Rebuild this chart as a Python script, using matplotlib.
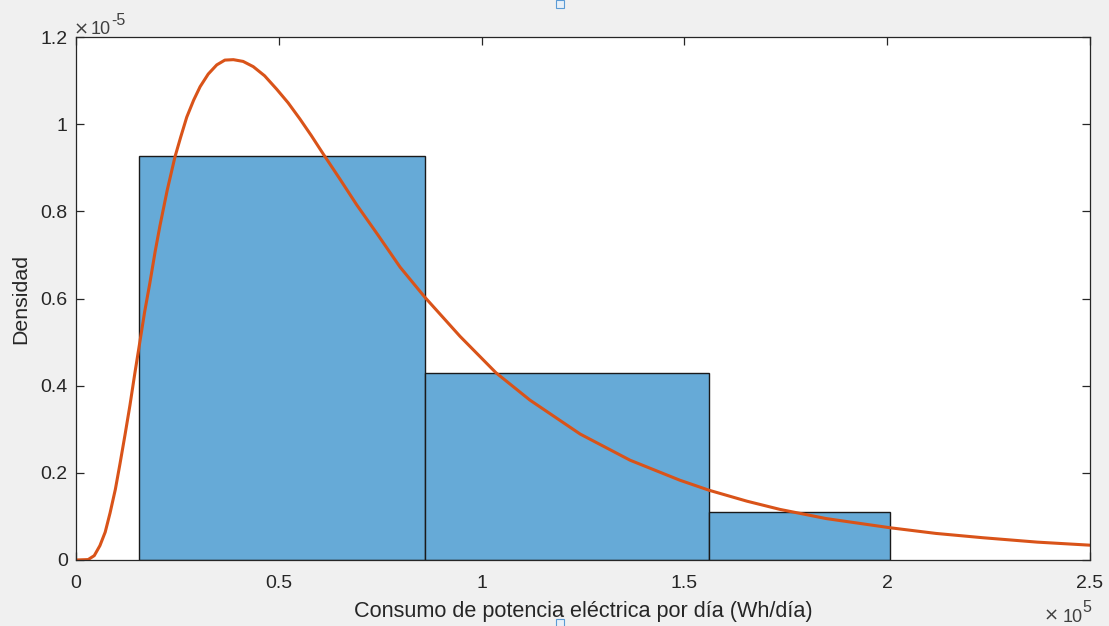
import matplotlib
matplotlib.use("Agg")
import matplotlib.pyplot as plt
from matplotlib.patches import Rectangle
from matplotlib.ticker import FixedLocator, FuncFormatter
import numpy as np

# ---- data (x in units of 1e5 Wh/día, density in units of 1e-5) ----
bin_edges = [0.156, 0.860, 1.561, 2.007]
bin_density = [0.928, 0.429, 0.1106]

curve_x = [0.000, 0.030, 0.045, 0.059, 0.072, 0.084, 0.097, 0.1085, 0.121, 0.133,
           0.145, 0.156, 0.169, 0.182, 0.195, 0.207, 0.225, 0.244, 0.258, 0.273,
           0.290, 0.306, 0.326, 0.347, 0.367, 0.388, 0.412, 0.437, 0.465, 0.495,
           0.523, 0.552, 0.580, 0.610, 0.650, 0.692, 0.745, 0.799, 0.860, 0.947,
           1.035, 1.119, 1.243, 1.366, 1.489, 1.561, 1.654, 1.736, 1.850, 2.007,
           2.120, 2.237, 2.370, 2.500]
curve_y = [0.000, 0.001, 0.010, 0.033, 0.064, 0.108, 0.162, 0.221, 0.288, 0.355,
           0.428, 0.492, 0.568, 0.635, 0.707, 0.767, 0.849, 0.925, 0.970, 1.016,
           1.055, 1.086, 1.115, 1.136, 1.147, 1.148, 1.144, 1.132, 1.111, 1.080,
           1.049, 1.012, 0.974, 0.931, 0.875, 0.815, 0.745, 0.672, 0.603, 0.513,
           0.430, 0.367, 0.289, 0.229, 0.183, 0.160, 0.135, 0.116, 0.095, 0.074,
           0.061, 0.051, 0.041, 0.034]

x_ticks = [0, 0.5, 1, 1.5, 2, 2.5]
y_ticks = [0, 0.2, 0.4, 0.6, 0.8, 1.0, 1.2]
x_label = "Consumo de potencia eléctrica por día (Wh/día)"
y_label = "Densidad"

X_SCALE = 1e5
Y_SCALE = 1e-5

# ---- figure ----
plt.rcParams['font.family'] = ['Liberation Sans', 'DejaVu Sans']
W, H = 1109, 626
fig = plt.figure(figsize=(W / 100, H / 100), dpi=100, facecolor='#f0f0f0')
ax = fig.add_axes([76 / W, 1 - 560 / H, (1090 - 76) / W, (560 - 37) / H])
ax.set_facecolor('white')

edges = np.array(bin_edges) * X_SCALE
dens = np.array(bin_density) * Y_SCALE
ax.bar(edges[:-1], dens, width=np.diff(edges), align='edge',
       color='#66aad7', edgecolor='#1a1a1a', linewidth=1.0, zorder=2)

ax.plot(np.array(curve_x) * X_SCALE, np.array(curve_y) * Y_SCALE,
        color='#d95319', linewidth=2.2, zorder=3, solid_capstyle='round',
        solid_joinstyle='round')

ax.set_xlim(0, 2.5 * X_SCALE)
ax.set_ylim(0, 1.2 * Y_SCALE)

tc = '#262626'
ax.xaxis.set_major_locator(FixedLocator([t * X_SCALE for t in x_ticks]))
ax.yaxis.set_major_locator(FixedLocator([t * Y_SCALE for t in y_ticks]))
ax.xaxis.set_major_formatter(FuncFormatter(lambda v, p: f"{v / X_SCALE:g}"))
ax.yaxis.set_major_formatter(FuncFormatter(lambda v, p: f"{v / Y_SCALE:g}"))
ax.tick_params(direction='in', length=6, width=0.9, colors=tc, labelcolor=tc,
               labelsize=14, top=True, right=True)
ax.tick_params(axis='x', pad=11)
ax.tick_params(axis='y', pad=6)
for s in ax.spines.values():
    s.set_color(tc)
    s.set_linewidth(0.9)
    s.set_zorder(5)

ax.set_xlabel(x_label, fontsize=15.6, color=tc, labelpad=6.5)
ax.set_ylabel(y_label, fontsize=15.4, color=tc, labelpad=7)

# exponent labels (MATLAB style)
ec = '#404040'
def put(px, py, s, size, family=None):
    kw = {} if family is None else {'family': family}
    fig.text(px / W, 1 - py / H, s, fontsize=size, color=ec,
             ha='left', va='baseline', **kw)

put(74, 34.5, "\u00d7", 13, 'DejaVu Sans')
put(90.5, 33.5, "10", 13)
put(111.5, 25, "-5", 11.5)
put(1044, 621, "\u00d7", 13, 'DejaVu Sans')
put(1063, 621.5, "10", 13)
put(1082, 611.5, "5", 11.5)

# small figure handles (screenshot artifacts)
for (px, py) in [(560, 4), (560, 623)]:
    fig.patches.append(Rectangle(((px - 4) / W, 1 - (py + 4) / H), 8 / W, 8 / H,
                                 transform=fig.transFigure, facecolor='#e8f0f8',
                                 edgecolor='#5b9bd5', linewidth=0.8))

fig.savefig("out.png", dpi=100, facecolor=fig.get_facecolor())
